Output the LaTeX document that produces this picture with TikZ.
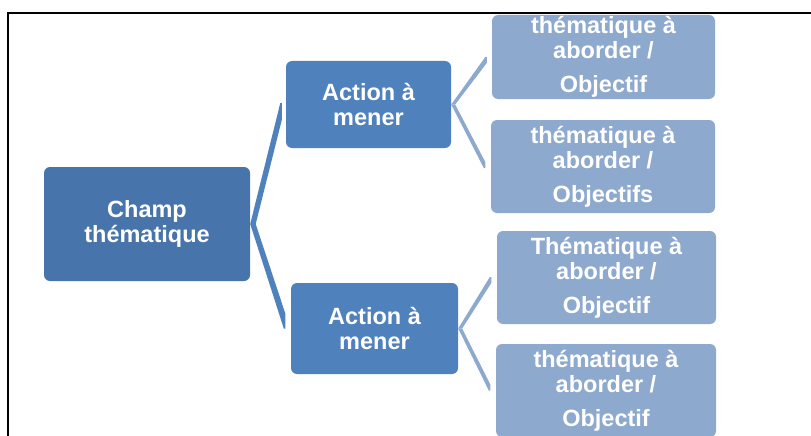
\documentclass[tikz,border=0pt]{standalone}
\usepackage{fontspec}
\setmainfont{Liberation Sans}
\usetikzlibrary{calc}

\definecolor{rootblue}{RGB}{71,116,170}
\definecolor{midblue}{RGB}{79,129,189}
\definecolor{paleblue}{RGB}{141,169,206}

% Wedge-shaped connector: parent anchor #2, tip #3, horizontal width #4,
% length of the vertical cut at the tip #5 (negative when the link goes down)
\newcommand\linkwedge[5]{%
  \fill[#1] (#2) -- ($(#3)+(-1.5,0)$) -- (#3) -- ($(#3)+(0,#5)$)
    -- ($(#2)+(#4,0)$) -- cycle;}

\tikzset{
  x=1pt, y=-1pt,
  box/.style={rounded corners=6pt, inner sep=0pt, align=center,
    text=white, font=\bfseries\fontsize{23.5}{25}\selectfont},
  rootbox/.style={box, fill=rootblue},
  actbox/.style={box, fill=midblue},
  leafbox/.style={box, fill=paleblue},
  rootlink/.style={midblue},
  leaflink/.style={paleblue},
}

\begin{document}
\begin{tikzpicture}
\useasboundingbox (0,0) rectangle (811,436);
\clip (0,0) rectangle (811,436);

% frame of the page
\draw[line width=2pt] (8,440) -- (8,13) -- (815,13);

% boxes
\node[rootbox, minimum width=206, minimum height=114] (root) at (147,224)
  {Champ\\thématique};
\node[actbox, minimum width=165, minimum height=87] (act1) at (368.5,104.5)
  {Action à\\mener};
\node[actbox, minimum width=167, minimum height=91] (act2) at (374.5,328.5)
  {Action à\\mener};
\node[leafbox, minimum width=223, minimum height=84] (leaf1) at (603.5,57)
  {thématique à\\aborder /\\[9pt]Objectif};
\node[leafbox, minimum width=224, minimum height=93] (leaf2) at (603,166.5)
  {thématique à\\aborder /\\[9pt]Objectifs};
\node[leafbox, minimum width=219, minimum height=93] (leaf3) at (606.5,277.5)
  {Thématique à\\aborder /\\[9pt]Objectif};
\node[leafbox, minimum width=220, minimum height=93] (leaf4) at (606,390.5)
  {thématique à\\aborder /\\[9pt]Objectif};

% tips of the connectors, just left of each child
\coordinate (t1) at ($(act1.west)+(-4,-1.5)$);
\coordinate (t2) at ($(act2.west)+(-5.5,0)$);
\coordinate (t3) at ($(leaf1.west)+(-5,0)$);
\coordinate (t4) at ($(leaf2.west)+(-5.5,1.5)$);
\coordinate (t5) at ($(leaf3.west)+(-5.5,-0.5)$);
\coordinate (t6) at ($(leaf4.west)+(-5.5,0)$);

% connectors
\linkwedge{rootlink}{root.east}{t1}{5.5}{17}
\linkwedge{rootlink}{root.east}{t2}{5.5}{-15}
\linkwedge{leaflink}{act1.east}{t3}{4}{6}
\linkwedge{leaflink}{act1.east}{t4}{4}{-6}
\linkwedge{leaflink}{act2.east}{t5}{4}{6}
\linkwedge{leaflink}{act2.east}{t6}{4}{-6}
\end{tikzpicture}
\end{document}
